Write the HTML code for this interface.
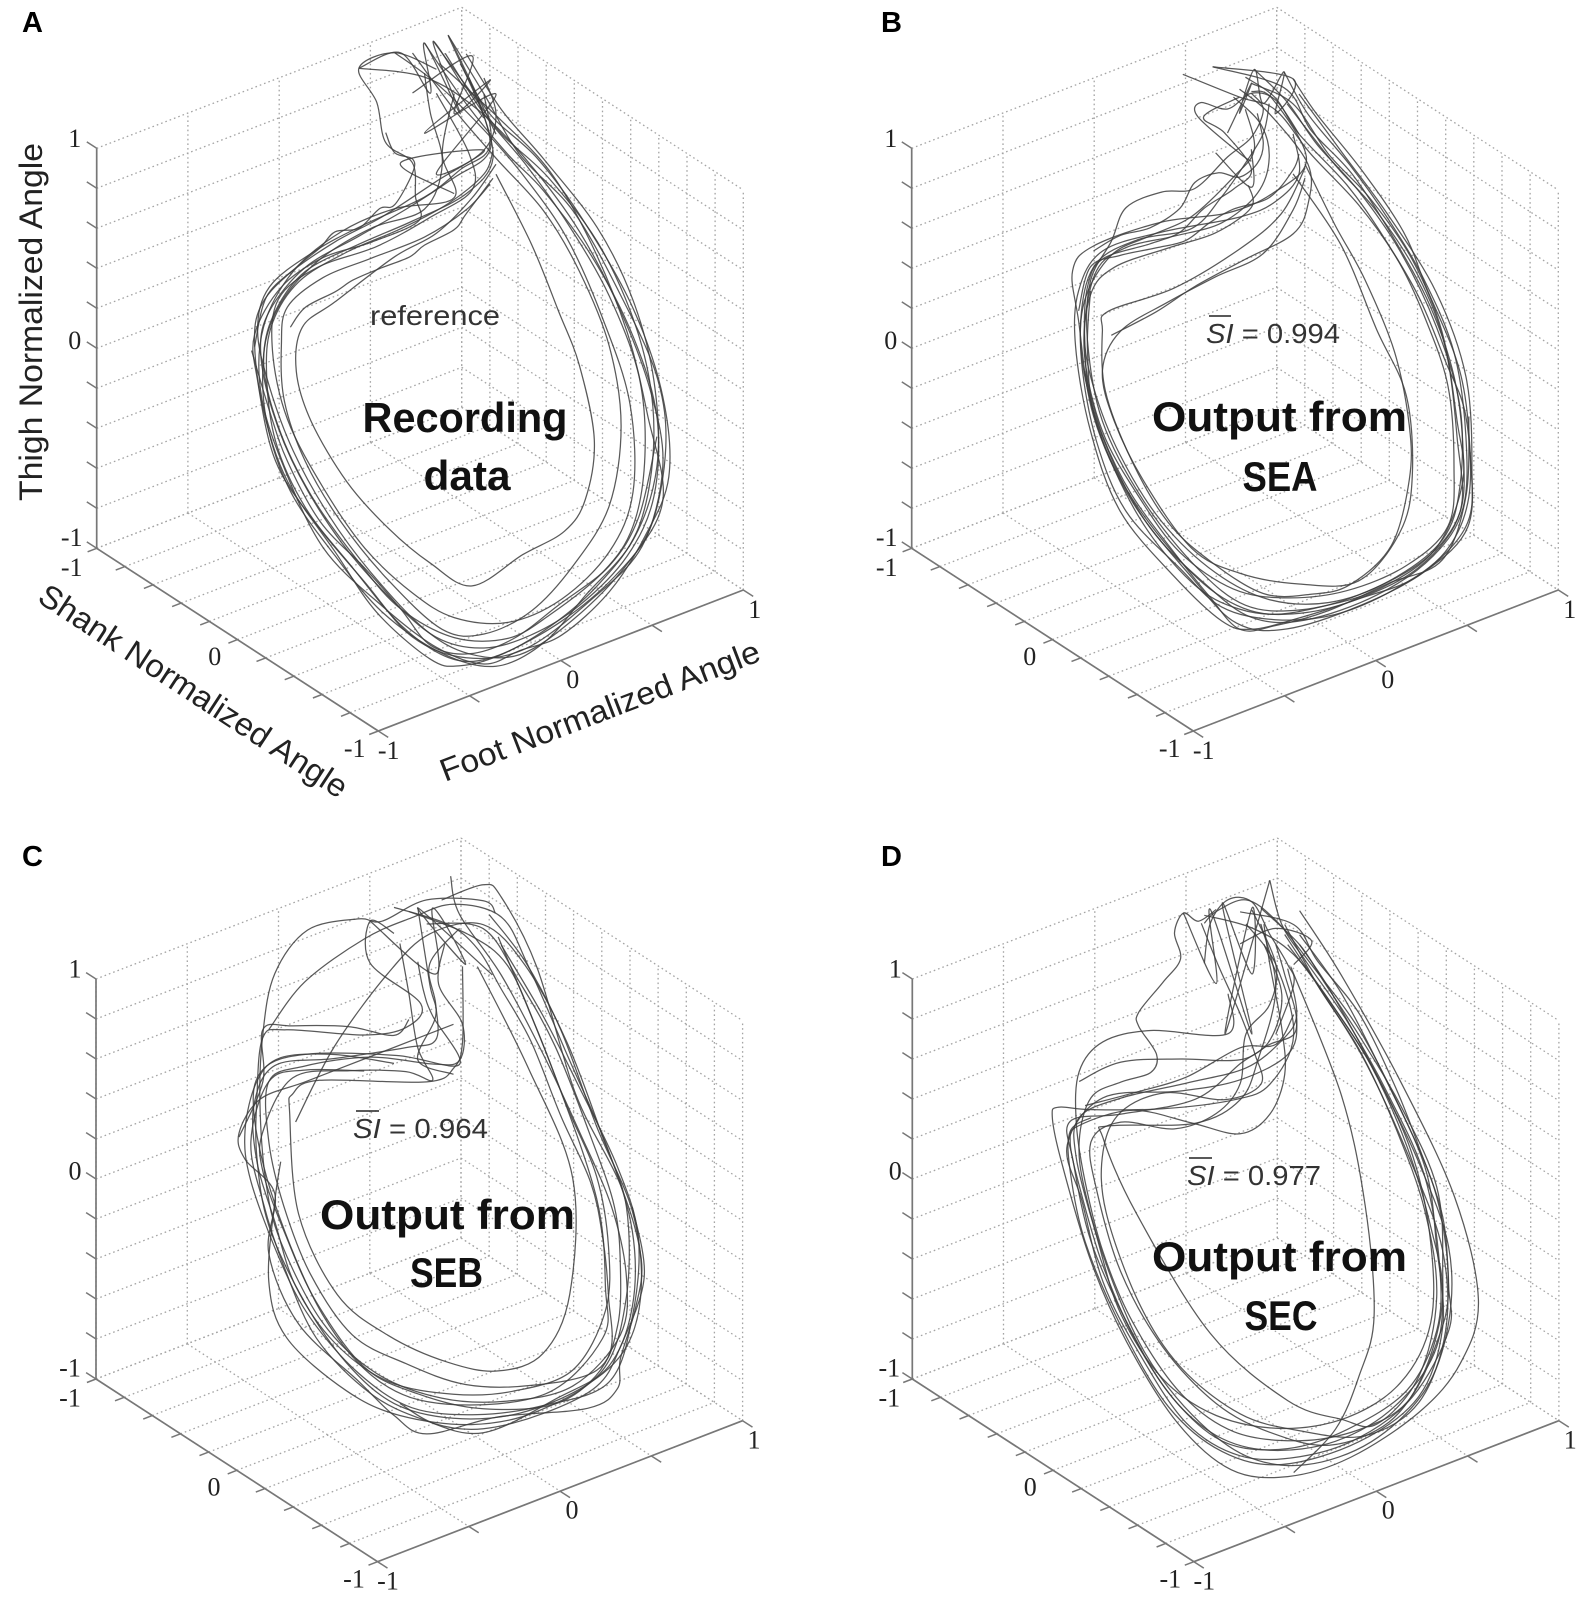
<!DOCTYPE html>
<html>
<head>
<meta charset="utf-8">
<title>Normalized joint angle loops</title>
<style>
html,body{margin:0;padding:0;background:#fff;}
svg{display:block;}
.tick{font-family:"Liberation Serif",serif;font-size:26px;fill:#222;text-anchor:middle;dominant-baseline:central;}
.title{font-family:"Liberation Sans",sans-serif;font-size:32px;fill:#222;}
.big{font-family:"Liberation Sans",sans-serif;font-weight:bold;font-size:42px;fill:#111;text-anchor:middle;}
.note{font-family:"Liberation Sans",sans-serif;font-size:28px;fill:#333;}
.panel{font-family:"Liberation Sans",sans-serif;font-weight:bold;font-size:29px;fill:#000;}
</style>
</head>
<body>
<svg id="figure" xmlns="http://www.w3.org/2000/svg" width="1594" height="1600" viewBox="0 0 1594 1600">
<rect x="0" y="0" width="1594" height="1600" fill="#fff"/>
<g id="charts"></g>

<text class="panel" x="22" y="32">A</text>
<text class="panel" x="881" y="32">B</text>
<text class="panel" x="22" y="866">C</text>
<text class="panel" x="881" y="866">D</text>

<text class="title" transform="translate(42,501) rotate(-90)" textLength="358" lengthAdjust="spacingAndGlyphs">Thigh Normalized Angle</text>
<text class="title" transform="translate(36,601) rotate(33.2)" textLength="362" lengthAdjust="spacingAndGlyphs">Shank Normalized Angle</text>
<text class="title" transform="translate(445,782) rotate(-21)" textLength="340" lengthAdjust="spacingAndGlyphs">Foot Normalized Angle</text>

<text class="note" x="370" y="325" textLength="130" lengthAdjust="spacingAndGlyphs">reference</text>
<text class="big" x="465" y="432" textLength="205" lengthAdjust="spacingAndGlyphs">Recording</text>
<text class="big" x="467" y="490" textLength="87" lengthAdjust="spacingAndGlyphs">data</text>

<text class="big" x="1279.5" y="431" textLength="255" lengthAdjust="spacingAndGlyphs">Output from</text>
<text class="big" x="1280" y="491" textLength="75" lengthAdjust="spacingAndGlyphs">SEA</text>
<text class="note" x="1206" y="343" textLength="134" lengthAdjust="spacingAndGlyphs"><tspan font-style="italic">SI</tspan> = 0.994</text>
<line x1="1209" y1="316" x2="1231" y2="316" stroke="#222" stroke-width="1.6"/>

<text class="big" x="447.5" y="1229" textLength="255" lengthAdjust="spacingAndGlyphs">Output from</text>
<text class="big" x="446.5" y="1287" textLength="73" lengthAdjust="spacingAndGlyphs">SEB</text>
<text class="note" x="353" y="1138" textLength="135" lengthAdjust="spacingAndGlyphs"><tspan font-style="italic">SI</tspan> = 0.964</text>
<line x1="356" y1="1111" x2="379" y2="1111" stroke="#222" stroke-width="1.6"/>

<text class="big" x="1279.5" y="1271" textLength="255" lengthAdjust="spacingAndGlyphs">Output from</text>
<text class="big" x="1281" y="1330" textLength="73" lengthAdjust="spacingAndGlyphs">SEC</text>
<text class="note" x="1187" y="1185" textLength="134" lengthAdjust="spacingAndGlyphs"><tspan font-style="italic">SI</tspan> = 0.977</text>
<line x1="1189" y1="1158" x2="1212" y2="1158" stroke="#222" stroke-width="1.6"/>
</svg>

<script>
// Axis values
const thighTicks = [-1,-0.8,-0.6,-0.4,-0.2,0,0.2,0.4,0.6,0.8,1];
const shankTicks = [-1,-0.8,-0.6,-0.4,-0.2,0,0.2,0.4,0.6,0.8,1];
const footTicks = [-1,-0.5,0,0.5,1];
const thighLabels = ['-1','0','1'];
const shankLabels = ['-1','0','-1'];
const footLabels = ['-1','0','1'];

// Each trace is a list of [foot, thigh] samples.
// Depth along the viewing direction cannot be read from the projection,
// so the shank value of each sample is taken from the plane in shankOf().
const tracesA = [
[[.18,1.59],[.3,1.3],[.42,1.0],[.6,.72],[.76,.3],[.88,-.1],[.91,-.45],[.86,-.85],[.74,-1.1],[.56,-1.33],[.36,-1.5],[.22,-1.56],[.12,-1.53],[-.06,-1.3],[-.2,-1.0],[-.36,-.65],[-.44,-.3],[-.47,.03],[-.45,.22],[-.36,.38],[-.2,.55],[-.04,.68],[.14,.86],[.3,1.02],[.34,1.2],[.3,1.38]],
[[.1,1.55],[.24,1.25],[.38,1.0],[.5,.82],[.66,.5],[.8,.1],[.88,-.3],[.87,-.7],[.78,-1.0],[.62,-1.25],[.46,-1.4],[.3,-1.47],[.14,-1.42],[-.02,-1.22],[-.18,-.95],[-.32,-.62],[-.41,-.3],[-.45,0],[-.42,.2],[-.3,.42],[-.12,.58],[.04,.72],[.2,.88],[.32,1.02],[.3,1.3]],
[[.13,1.56],[.26,1.3],[.36,1.1],[.52,.88],[.7,.52],[.83,.05],[.87,-.4],[.82,-.85],[.68,-1.15],[.5,-1.38],[.32,-1.52],[.18,-1.52],[.02,-1.36],[-.14,-1.08],[-.3,-.78],[-.4,-.45],[-.43,-.1],[-.41,.14],[-.32,.35],[-.16,.5],[.02,.62],[.18,.75],[.3,.9],[.33,1.02]],
[[.06,1.5],[.2,1.22],[.34,.98],[.5,.72],[.62,.42],[.72,.05],[.76,-.35],[.72,-.75],[.6,-1.05],[.46,-1.28],[.3,-1.4],[.16,-1.38],[-.02,-1.14],[-.18,-.85],[-.3,-.55],[-.37,-.25],[-.38,.03],[-.36,.22],[-.24,.37],[-.08,.47],[.1,.58],[.24,.72],[.32,.85]],
[[.34,.9],[.46,.55],[.55,.22],[.62,-.05],[.67,-.42],[.64,-.72],[.57,-.88],[.43,-1.0],[.26,-1.16],[.12,-1.05],[-.02,-.88],[-.16,-.65],[-.28,-.35],[-.33,-.1],[-.31,.12],[-.2,.25],[0,.48],[.14,.6],[.26,.78],[.34,.95]],
[[-.12,1.42],[.1,1.38],[.28,1.22],[.45,.96],[.62,.62],[.76,.22],[.86,-.18],[.9,-.55],[.83,-.95],[.66,-1.22],[.44,-1.47],[.24,-1.52],[.06,-1.42],[-.1,-1.15],[-.27,-.85],[-.4,-.55],[-.46,-.15],[-.47,.08],[-.38,.32],[-.24,.47],[-.08,.55],[.08,.66],[.07,.78],[.06,.95],[-.03,1.05],[-.06,1.25],[-.12,1.42],[0,1.5],[.14,1.42]],
[[.17,1.5],[.3,1.2],[.44,.95],[.58,.66],[.72,.3],[.82,-.1],[.84,-.5],[.8,-.85],[.7,-1.08],[.52,-1.3],[.38,-1.42],[.2,-1.42],[.02,-1.28],[-.12,-1.05],[-.28,-.72],[-.39,-.38],[-.44,-.05],[-.39,.22],[-.26,.45],[-.08,.62],[.1,.72],[.16,.95],[.12,1.2],[.1,1.4]],
[[.22,1.45],[.32,1.2],[.48,.98],[.64,.66],[.8,.24],[.9,-.2],[.92,-.6],[.84,-.9],[.72,-1.18],[.56,-1.4],[.42,-1.48],[.3,-1.55],[.14,-1.47],[-.04,-1.27],[-.24,-.98],[-.38,-.55],[-.45,-.2],[-.44,.12],[-.34,.4],[-.18,.6],[0,.72],[.2,.78],[.16,1.0],[.2,1.3]],
[[0,1.5],[.14,1.35],[.3,1.12],[.44,.88],[.58,.58],[.7,.18],[.79,-.24],[.8,-.68],[.72,-.98],[.56,-1.22],[.38,-1.34],[.2,-1.32],[.06,-1.2],[-.1,-.98],[-.24,-.68],[-.36,-.34],[-.41,0],[-.39,.26],[-.26,.42],[-.06,.53],[.12,.68],[.26,.82],[.25,1.0],[.14,1.3]],
[[.15,1.45],[.35,1.18],[.52,.92],[.66,.56],[.78,.12],[.85,-.3],[.9,-.72],[.78,-1.04],[.6,-1.32],[.42,-1.5],[.25,-1.5],[.1,-1.38],[-.08,-1.1],[-.22,-.82],[-.34,-.5],[-.42,-.18],[-.46,.1],[-.42,.32],[-.27,.5],[-.1,.64],[.1,.78],[.22,.92],[.32,1.05],[.25,1.38]],
[[.24,1.5],[.36,1.22],[.5,.98],[.68,.64],[.8,.28],[.87,-.12],[.88,-.55],[.8,-.92],[.64,-1.2],[.5,-1.44],[.34,-1.56],[.16,-1.5],[-.04,-1.3],[-.2,-1.02],[-.35,-.7],[-.43,-.35],[-.44,-.02],[-.4,.2],[-.3,.4],[-.12,.54],[.06,.66],[.24,.8],[.33,.98],[.28,1.28]],
[[-.12,1.42],[.02,1.5],[.12,1.3],[.1,1.55],[.22,1.2],[.13,1.56],[.3,1.18],[.18,1.59],[.34,1.1]],
[[.06,1.3],[.26,1.49],[.2,1.2],[.32,1.37],[.1,1.1],[.34,1.3],[.14,.9],[.3,1.02],[.02,.95],[.2,.8]],
[[-.47,.02],[-.43,.27],[-.33,.42],[-.25,.52],[-.2,.6],[-.12,.62],[-.05,.72],[0,.74],[.06,.9],[.06,.97],[0,1.0],[-.03,1.1]],
[[-.35,.12],[-.3,.22],[-.2,.3],[-.14,.36],[-.05,.42],[.05,.48],[.1,.54],[.2,.62],[.24,.7],[.33,.88]],
[[-.48,0],[-.42,-.3],[-.36,-.55],[-.25,-.85],[-.1,-1.08],[.02,-1.28],[.12,-1.46],[.25,-1.5],[.4,-1.42],[.55,-1.25],[.72,-1.05],[.82,-.8],[.88,-.4]]
];
const tracesB = [
[[.28,1.375],[.36,1.2],[.51,.925],[.65,.62],[.725,.35],[.84,-.075],[.875,-.5],[.867,-.85],[.725,-1.075],[.51,-1.25],[.26,-1.375],[.09,-1.35],[-.06,-1.125],[-.26,-.75],[-.39,-.325],[-.44,.15],[-.46,.4],[-.39,.525],[-.16,.65],[.06,.7],[.21,.8],[.325,.975],[.21,1.275],[.14,1.31]],
[[.01,1.43],[.25,1.33],[.34,1.12],[.48,.9],[.62,.58],[.74,.25],[.82,-.1],[.85,-.45],[.84,-.78],[.72,-1.02],[.5,-1.2],[.3,-1.28],[.12,-1.26],[-.04,-1.08],[-.22,-.75],[-.36,-.35],[-.41,.05],[-.4,.35],[-.33,.55],[-.28,.72],[-.16,.8],[-.05,.82],[.06,.98],[.14,1.08],[.18,1.22],[.14,1.3]],
[[.15,1.42],[.26,1.26],[.36,1.05],[.5,.82],[.64,.52],[.76,.15],[.84,-.25],[.84,-.65],[.78,-.92],[.6,-1.13],[.4,-1.24],[.2,-1.23],[.02,-1.1],[-.16,-.85],[-.3,-.52],[-.39,-.18],[-.42,.1],[-.38,.4],[-.28,.52],[-.12,.58],[.04,.65],[.16,.8],[.2,.98],[.17,1.15],[.08,1.28]],
[[-.09,1.39],[.1,1.28],[.22,1.22],[.34,1.0],[.5,.75],[.63,.48],[.72,.2],[.8,-.15],[.82,-.55],[.8,-.85],[.66,-1.05],[.46,-1.18],[.26,-1.22],[.08,-1.18],[-.1,-1.0],[-.24,-.72],[-.36,-.4],[-.42,-.02],[-.4,.28],[-.32,.42],[-.14,.52],[.02,.6],[.14,.73],[.13,.84]],
[[.32,.95],[.42,.65],[.52,.38],[.62,.02],[.67,-.35],[.67,-.62],[.61,-.95],[.47,-1.15],[.34,-1.2],[.18,-1.2],[0,-1.04],[-.14,-.85],[-.26,-.55],[-.35,-.2],[-.36,.1],[-.34,.2],[-.12,.32],[.1,.52],[.24,.7],[.32,.93]],
[[.28,.9],[.44,.55],[.56,.13],[.66,-.2],[.68,-.6],[.64,-.88],[.5,-1.13],[.3,-1.15],[.1,-1.1],[-.06,-.98],[-.22,-.65],[-.32,-.35],[-.36,-.1],[-.3,.1],[-.14,.25],[.02,.38],[.18,.5],[.28,.72],[.32,.88]],
[[.25,1.41],[.33,1.2],[.47,.95],[.6,.68],[.72,.38],[.82,.02],[.86,-.4],[.85,-.76],[.75,-1.0],[.56,-1.2],[.32,-1.33],[.14,-1.32],[-.02,-1.15],[-.2,-.88],[-.34,-.5],[-.42,-.12],[-.43,.2],[-.38,.44],[-.24,.56],[-.06,.62],[.04,.78],[.12,.95],[.18,1.1],[.2,1.25]],
[[.12,1.38],[.22,1.28],[.3,1.1],[.46,.85],[.58,.6],[.7,.3],[.79,-.02],[.86,-.3],[.87,-.7],[.79,-.98],[.62,-1.17],[.42,-1.3],[.22,-1.33],[.04,-1.27],[-.1,-1.08],[-.28,-.8],[-.38,-.45],[-.43,-.05],[-.42,.25],[-.33,.48],[-.2,.58],[-.06,.68],[.08,.88],[.15,1.02],[.12,1.22]],
[[.14,1.35],[.28,1.25],[.4,1.0],[.54,.78],[.68,.48],[.78,.12],[.83,-.32],[.85,-.62],[.76,-.96],[.58,-1.16],[.38,-1.26],[.18,-1.3],[0,-1.18],[-.18,-.9],[-.32,-.58],[-.4,-.25],[-.42,.08],[-.41,.32],[-.36,.46],[-.2,.54],[-.1,.6],[-.02,.72],[.08,.82],[.14,.92],[.05,1.1],[-.02,1.18],[.1,1.28]],
[[-.33,.08],[-.18,.2],[-.05,.33],[.12,.47],[.28,.6],[.33,.75],[.33,.95],[.2,1.2],[.1,1.32]],
[[.3,1.3],[.45,1.0],[.6,.7],[.76,.32],[.86,-.1],[.88,-.55],[.86,-.85],[.7,-1.1],[.5,-1.22],[.3,-1.32],[.14,-1.38],[.04,-1.34],[-.12,-1.12],[-.3,-.8],[-.4,-.4],[-.45,.02],[-.44,.3],[-.36,.5],[-.16,.6],[.1,.68],[.22,.76],[.3,.9],[.28,1.1]],
[[.01,1.43],[.28,1.375],[.22,1.2],[.25,1.41],[.18,1.25],[.15,1.42],[.1,1.2],[.14,1.35],[.06,1.1]],
[[.14,.96],[.1,1.0],[-.04,1.18],[-.03,1.25],[.06,1.22],[.14,1.3],[.22,1.27],[.3,1.1]],
[[.02,1.0],[.14,.83],[.14,1.02]],
[[-.39,.5],[-.3,.58],[-.2,.62],[-.1,.72],[-.05,.85],[.03,.9],[.1,.88],[.16,.95],[.18,1.05],[.16,1.2]],
[[-.44,.2],[-.4,.42],[-.3,.48],[-.18,.52],[-.08,.56],[0,.65],[.08,.72],[.2,.78],[.28,.92],[.3,1.0]],
[[-.42,-.1],[-.36,-.42],[-.26,-.72],[-.12,-1.0],[0,-1.22],[.1,-1.38],[.22,-1.36],[.4,-1.28],[.6,-1.14],[.78,-1.02],[.86,-.7],[.87,-.3]],
[[.26,1.25],[.42,.95],[.56,.72],[.7,.4],[.79,.05],[.83,-.4],[.84,-.78],[.7,-1.06],[.48,-1.23],[.28,-1.3],[.1,-1.28],[-.06,-1.15],[-.24,-.82],[-.38,-.36],[-.41,0],[-.4,.3]]
];
const tracesC = [
[[.16,1.42],[.3,1.5],[.36,1.44],[.48,1.09],[.61,.46],[.76,.01],[.83,-.36],[.81,-.61],[.76,-.86],[.75,-1.01],[.65,-1.11],[.35,-1.16],[.11,-1.25],[0,-1.16],[-.12,-.99],[-.32,-.71],[-.42,-.36],[-.4,-.06],[-.5,.11],[-.52,.24],[-.45,.41],[-.3,.5],[-.1,.62],[.1,.74],[.2,.8]],
[[.19,1.54],[.22,1.35],[.36,1.05],[.5,.66],[.62,.28],[.73,-.1],[.78,-.45],[.76,-.74],[.6,-1.0],[.38,-1.08],[.16,-1.07],[-.06,-.95],[-.24,-.7],[-.38,-.3],[-.43,0],[-.45,.4],[-.44,.74],[-.4,1.04],[-.29,1.26],[-.12,1.32],[-.04,1.31],[.11,1.42],[.3,1.42],[.34,1.36]],
[[.28,1.09],[.45,.59],[.6,.04],[.59,-.54],[.5,-.84],[.35,-.93],[.18,-.89],[-.02,-.76],[-.19,-.56],[-.32,-.16],[-.35,.34],[-.34,.44],[-.25,.51],[.11,.51],[.2,.58],[.23,.71],[.23,1.09]],
[[.35,1.24],[.53,.59],[.68,-.06],[.71,-.51],[.7,-.76],[.51,-1.04],[.18,-1.1],[-.05,-.99],[-.24,-.66],[-.4,-.11],[-.47,.34],[-.44,.56],[-.29,.64],[.01,.64],[.22,.6],[.13,.84],[.1,.96],[.08,1.11]],
[[.32,1.35],[.44,1.12],[.56,.78],[.68,.3],[.8,-.12],[.83,-.5],[.78,-.8],[.64,-1.0],[.42,-1.14],[.2,-1.17],[0,-1.1],[-.16,-.9],[-.3,-.6],[-.42,-.22],[-.46,.12],[-.46,.42],[-.44,.72],[-.36,.76],[-.1,.74],[.04,.78],[.09,.9],[-.08,1.1],[-.08,1.31],[0,1.25]],
[[.11,1.3],[.3,1.28],[.42,1.02],[.54,.7],[.66,.25],[.74,-.1],[.76,-.4],[.75,-.7],[.68,-.92],[.46,-1.0],[.24,-1.0],[.04,-.9],[-.14,-.76],[-.28,-.46],[-.37,-.12],[-.42,.2],[-.42,.5],[-.3,.58],[-.08,.63],[.13,.6],[.22,.62],[.23,.8],[.15,1.0],[.17,1.2]],
[[.05,1.36],[.25,1.25],[.38,1.1],[.48,.78],[.58,.4],[.68,.05],[.72,-.3],[.71,-.62],[.6,-.92],[.4,-1.03],[.2,-1.05],[-.02,-.99],[-.2,-.8],[-.33,-.52],[-.4,-.2],[-.46,.1],[-.47,.38],[-.4,.58],[-.2,.62],[.04,.68],[.14,.72],[.14,.9],[.12,1.1],[.22,1.28]],
[[0,1.38],[.18,1.3],[.28,1.18],[.36,.98],[.46,.72],[.56,.35],[.66,.02],[.7,-.25],[.72,-.55],[.72,-.85],[.56,-1.08],[.3,-1.12],[.08,-1.05],[-.1,-.92],[-.26,-.6],[-.36,-.28],[-.44,.05],[-.44,.25],[-.34,.52],[-.15,.56],[.04,.56],[.13,.52],[.08,.68],[.05,.95],[.02,1.2]],
[[-.33,.3],[-.2,.68],[-.02,1.05],[.12,1.25],[.3,1.3],[.44,1.1],[.58,.72],[.7,.25],[.78,-.1],[.78,-.55],[.7,-.92],[.48,-1.13],[.26,-1.2],[.02,-1.16],[-.16,-1.04],[-.36,-.78],[-.42,-.5],[-.4,-.1],[-.38,.1]],
[[-.42,.76],[-.3,1.0],[-.1,1.22],[.06,1.33],[.2,1.4],[.36,1.34],[.45,1.1],[.58,.66],[.72,.18],[.8,-.22],[.8,-.6],[.72,-.9],[.55,-1.06],[.3,-1.24],[.1,-1.18],[-.08,-1.05],[-.26,-.78],[-.37,-.42],[-.44,-.1],[-.48,.2],[-.42,.5],[-.3,.56],[-.1,.56]],
[[-.08,1.31],[.14,1.05],[.13,1.38],[.24,1.1],[.08,1.38],[.33,1.05]],
[[.08,1.38],[.12,1.0],[.14,.84],[.08,.62],[.2,.55]],
[[-.52,.22],[-.44,.5],[-.44,.76],[-.34,.78],[-.15,.78],[0,.74],[.05,.82]],
[[.02,-1.1],[.14,-1.2],[.3,-1.22],[.5,-1.14],[.68,-1.0],[.76,-.8],[.84,-.45],[.8,-.1]],
[[.36,1.2],[.5,.85],[.62,.5],[.75,.1],[.82,-.25],[.8,-.65],[.72,-.98],[.5,-1.1],[.28,-1.15],[.06,-1.12],[-.12,-.95],[-.28,-.68],[-.38,-.4],[-.48,0],[-.5,.25],[-.46,.5],[-.38,.62],[-.2,.64],[0,.6]]
];
const tracesD = [
[[.3,1.37],[.44,1.05],[.64,.52],[.82,-.05],[.9,-.56],[.84,-.88],[.7,-1.13],[.47,-1.36],[.26,-1.46],[.07,-1.43],[-.11,-1.2],[-.28,-.8],[-.4,-.4],[-.5,.1],[-.53,.32],[-.51,.37],[-.4,.36],[-.16,.37],[.08,.42],[.2,.5],[.28,.75],[.22,1.1],[.12,1.3]],
[[.2,1.52],[.24,1.3],[.32,1.12],[.46,.82],[.6,.45],[.72,.05],[.77,-.4],[.76,-.72],[.66,-1.02],[.46,-1.22],[.26,-1.32],[.06,-1.3],[-.1,-1.12],[-.24,-.82],[-.36,-.42],[-.44,-.02],[-.47,.2],[-.44,.28],[-.26,.36],[-.06,.3],[.1,.25],[.2,.35],[.25,.55],[.24,.78],[.2,1.1],[.18,1.3]],
[[.27,1.09],[.44,.45],[.52,-.1],[.55,-.65],[.5,-.95],[.42,-1.22],[.28,-1.44]],
[[.25,1.3],[.36,1.0],[.5,.68],[.62,.3],[.72,-.12],[.76,-.55],[.7,-.95],[.56,-1.19],[.44,-1.17],[.26,-1.08],[0,-.75],[-.25,-.15],[-.36,.22],[-.34,.28],[-.05,.3],[.1,.42],[.16,.62],[.22,.98],[.17,1.3]],
[[.02,1.37],[-.04,1.31],[-.09,1.35],[-.12,1.25],[-.1,1.12],[-.16,1.0],[-.24,.85],[-.24,.78],[-.18,.64],[-.2,.55],[-.3,.5],[-.4,.42],[-.44,.2],[-.42,-.05],[-.34,-.45],[-.22,-.85],[-.06,-1.16],[.12,-1.36],[.32,-1.4],[.54,-1.28],[.72,-1.02],[.8,-.68],[.8,-.3],[.7,.12],[.56,.55],[.4,.98],[.3,1.2]],
[[.06,.95],[.06,.75],[-.2,.76],[-.36,.7],[-.44,.55],[-.45,.3],[-.42,0],[-.36,-.35],[-.26,-.7],[-.1,-1.05],[.08,-1.24],[.3,-1.28],[.5,-1.22],[.66,-1.08],[.76,-.78],[.8,-.5],[.76,-.05],[.64,.38],[.5,.78],[.34,1.1],[.22,1.32],[.12,1.42],[.02,1.36],[-.02,1.3]],
[[.17,1.38],[.3,1.2],[.38,1.02],[.5,.75],[.64,.4],[.76,0],[.78,-.4],[.76,-.8],[.62,-1.1],[.42,-1.28],[.2,-1.33],[.02,-1.26],[-.14,-1.05],[-.28,-.7],[-.4,-.3],[-.46,.1],[-.47,.3],[-.3,.34],[-.05,.42],[.1,.6],[.2,.72],[.24,.95],[.18,1.2]],
[[-.02,1.34],[.14,1.28],[.28,1.15],[.42,.88],[.56,.55],[.68,.15],[.74,-.28],[.74,-.68],[.64,-.98],[.46,-1.16],[.24,-1.22],[.02,-1.16],[-.16,-.98],[-.3,-.66],[-.38,-.28],[-.45,.12],[-.44,.32],[-.3,.42],[-.08,.5],[.12,.58],[.24,.72],[.29,.85],[.26,1.08]],
[[.14,1.37],[.22,1.1],[.2,.9],[.12,.75],[.1,.5],[.02,.35],[-.12,.27],[-.3,.3],[-.4,.2],[-.38,-.05],[-.3,-.45],[-.16,-.82],[.02,-1.1],[.2,-1.24],[.4,-1.3],[.6,-1.18],[.72,-.92],[.78,-.55],[.74,-.2],[.66,.2],[.54,.6],[.4,.92],[.26,1.2]],
[[.1,1.36],[.28,1.3],[.36,1.12],[.5,.86],[.62,.5],[.7,.2],[.78,-.15],[.8,-.5],[.8,-.72],[.68,-1.05],[.5,-1.26],[.3,-1.36],[.1,-1.36],[-.08,-1.2],[-.24,-.85],[-.36,-.5],[-.43,-.1],[-.48,.18],[-.36,.42],[-.1,.46],[.1,.52],[.26,.65],[.29,.82],[.25,1.05],[.22,1.2]],
[[-.03,1.3],[.03,1.08],[.1,.85],[.15,.65],[.17,.5],[.05,.42],[-.15,.45],[-.3,.35],[-.36,.15],[-.35,-.15],[-.24,-.6],[-.1,-.92],[.1,-1.15],[.3,-1.23],[.52,-1.25],[.7,-1.08],[.79,-.72],[.78,-.32],[.68,.1],[.52,.62],[.36,1.0],[.25,1.25]],
[[-.09,1.35],[.02,1.0],[0,1.37],[.14,.75],[.04,1.4],[.14,1.05],[.14,1.38],[.05,.75],[.2,1.52]],
[[-.02,1.1],[0,1.3],[.06,1.42],[.14,1.41],[.2,1.25],[.26,1.1],[.28,1.0],[.22,.75]],
[[.1,1.2],[.22,1.28],[.34,1.22],[.28,1.1]],
[[-.44,.5],[-.3,.6],[-.1,.62],[.1,.62],[.2,.7],[.28,.75],[.29,.85]],
[[-.42,.38],[-.25,.45],[-.08,.53],[.1,.68],[.22,.7],[.28,.85]],
[[.3,1.25],[.44,.96],[.58,.56],[.72,.1],[.76,-.3],[.78,-.7],[.7,-1.05],[.5,-1.28],[.24,-1.4],[.04,-1.34],[-.14,-1.12],[-.3,-.72],[-.42,-.3],[-.47,.05],[-.47,.25],[-.4,.32]]
];

const NS = 'http://www.w3.org/2000/svg';
const chartsRoot = document.getElementById('charts');

// Axes of the 3-D view: pixels per data unit along each axis
const FOOT_X = 182.5, FOOT_Y = -70.5, SHANK_X = 140.8, SHANK_Y = 91.35, THIGH_Y = -200;

function project(panel, foot, shank, thigh) {
  return [
    panel.ox + (foot + 1) * FOOT_X + (shank + 1) * SHANK_X,
    panel.oy + (foot + 1) * FOOT_Y + (shank + 1) * SHANK_Y + (thigh + 1) * THIGH_Y
  ];
}
function shankOf(foot) {
  return -1 + 0.82 * (foot + 1);
}
function seg(tag) {
  return document.createElementNS(NS, tag);
}
function setLine(el, a, b, color, width, dash) {
  el.setAttribute('x1', a[0].toFixed(1));
  el.setAttribute('y1', a[1].toFixed(1));
  el.setAttribute('x2', b[0].toFixed(1));
  el.setAttribute('y2', b[1].toFixed(1));
  el.setAttribute('stroke', color);
  el.setAttribute('stroke-width', width);
  if (dash) el.setAttribute('stroke-dasharray', dash);
}
function smoothPath(pts) {
  let d = 'M' + pts[0][0].toFixed(1) + ' ' + pts[0][1].toFixed(1);
  for (let i = 0; i < pts.length - 1; i++) {
    const p0 = pts[Math.max(i - 1, 0)], p1 = pts[i], p2 = pts[i + 1], p3 = pts[Math.min(i + 2, pts.length - 1)];
    const c1x = p1[0] + (p2[0] - p0[0]) / 6, c1y = p1[1] + (p2[1] - p0[1]) / 6;
    const c2x = p2[0] - (p3[0] - p1[0]) / 6, c2y = p2[1] - (p3[1] - p1[1]) / 6;
    d += 'C' + c1x.toFixed(1) + ' ' + c1y.toFixed(1) + ' ' + c2x.toFixed(1) + ' ' + c2y.toFixed(1) + ' ' + p2[0].toFixed(1) + ' ' + p2[1].toFixed(1);
  }
  return d;
}

function drawPanel(panel, traces) {
  const g = seg('g');
  
  
  chartsRoot.appendChild(g);
  const GRID = '#a4a4a4', AXIS = '#777', DASH = '1.6 3';

  thighTicks.forEach(t => {
    const a = seg('line');
    
    
    setLine(a, project(panel, -1, -1, t), project(panel, 1, -1, t), GRID, 1.3, DASH);
    g.appendChild(a);
    const b = seg('line');
    
    
    setLine(b, project(panel, 1, -1, t), project(panel, 1, 1, t), GRID, 1.3, DASH);
    g.appendChild(b);
  });
  footTicks.forEach(f => {
    const a = seg('line');
    
    
    setLine(a, project(panel, f, -1, -1), project(panel, f, -1, 1), GRID, 1.3, DASH);
    g.appendChild(a);
    const b = seg('line');
    
    
    setLine(b, project(panel, f, -1, -1), project(panel, f, 1, -1), GRID, 1.3, DASH);
    g.appendChild(b);
  });
  shankTicks.forEach(s => {
    const a = seg('line');
    
    
    setLine(a, project(panel, 1, s, -1), project(panel, 1, s, 1), GRID, 1.3, DASH);
    g.appendChild(a);
    const b = seg('line');
    
    
    setLine(b, project(panel, -1, s, -1), project(panel, 1, s, -1), GRID, 1.3, DASH);
    g.appendChild(b);
  });

  const thighAxis = seg('line');
  
  
  setLine(thighAxis, project(panel, -1, -1, -1), project(panel, -1, -1, 1), AXIS, 1.7);
  g.appendChild(thighAxis);
  const shankAxis = seg('line');
  
  
  setLine(shankAxis, project(panel, -1, -1, -1), project(panel, -1, 1, -1), AXIS, 1.7);
  g.appendChild(shankAxis);
  const footAxis = seg('line');
  
  
  setLine(footAxis, project(panel, -1, 1, -1), project(panel, 1, 1, -1), AXIS, 1.7);
  g.appendChild(footAxis);

  thighTicks.forEach(t => {
    const tick = seg('line');
    
    
    setLine(tick, project(panel, -1, -1, t), project(panel, -1, -1.07, t), AXIS, 1.5);
    g.appendChild(tick);
  });
  shankTicks.forEach(s => {
    const tick = seg('line');
    
    
    setLine(tick, project(panel, -1, s, -1), project(panel, -1.05, s, -1), AXIS, 1.5);
    g.appendChild(tick);
  });
  footTicks.forEach(f => {
    const tick = seg('line');
    
    
    setLine(tick, project(panel, f, 1, -1), project(panel, f, 1.07, -1), AXIS, 1.5);
    g.appendChild(tick);
  });

  traces.forEach(trace => {
    const pts = trace.map(sample => project(panel, sample[0], shankOf(sample[0]), sample[1]));
    const p = seg('path');
    
    
    p.setAttribute('d', smoothPath(pts));
    p.setAttribute('fill', 'none');
    p.setAttribute('stroke', '#3c3c3c');
    p.setAttribute('stroke-opacity', '0.85');
    p.setAttribute('stroke-width', '1.25');
    p.setAttribute('stroke-linejoin', 'round');
    g.appendChild(p);
  });

  const place = (txt, dx, dy) => {
    const el = seg('text');
    
    
    el.setAttribute('class', 'tick');
    el.setAttribute('x', panel.ox + dx);
    el.setAttribute('y', panel.oy + dy);
    el.textContent = txt;
    g.appendChild(el);
  };
  place(thighLabels[0], panel.lowDx, -11);
  place(thighLabels[1], panel.labelDx, -208);
  place(thighLabels[2], panel.labelDx, -410);
  place(shankLabels[0], panel.lowDx, 19);
  place(shankLabels[1], 118, 108);
  place(shankLabels[2], 258, 200);
  place(footLabels[0], 292, 202);
  place(footLabels[1], 476, 131);
  place(footLabels[2], 658, 61);
}

drawPanel({ ox: 96.7, oy: 548.3, labelDx: -22, lowDx: -25 }, tracesA);
drawPanel({ ox: 911.7, oy: 548.3, labelDx: -21, lowDx: -25 }, tracesB);
drawPanel({ ox: 96, oy: 1379, labelDx: -21, lowDx: -26 }, tracesC);
drawPanel({ ox: 912.3, oy: 1379, labelDx: -17, lowDx: -23 }, tracesD);
</script>
</body>
</html>
